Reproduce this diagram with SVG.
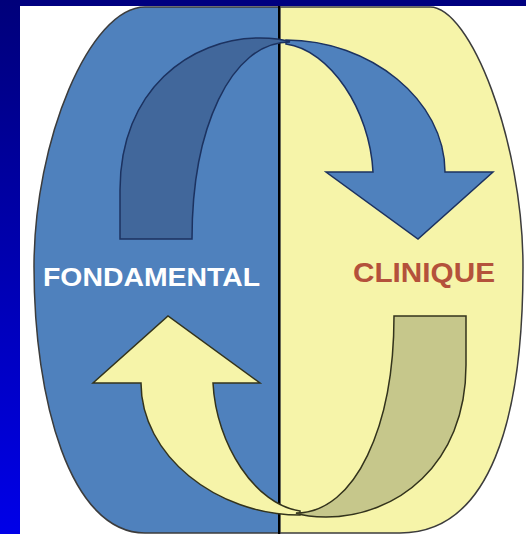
<svg xmlns="http://www.w3.org/2000/svg" width="526" height="534" viewBox="0 0 526 534">
<defs>
<linearGradient id="strip" x1="0" y1="0" x2="0" y2="1">
<stop offset="0" stop-color="#00007a"/>
<stop offset="1" stop-color="#0000e8"/>
</linearGradient>
<path id="tail" d="M120,239 L120,190 C120,90 190,38 260,38 C272,38 282,39 290,42 C230,42 192,130 192,239 Z"/>
<path id="front" d="M286,40 C370,40 445,100 445,172 L493,172 L418,239 L326,172 L373,172 C370,110 330,50 286,44 Z"/>
</defs>
<style>
.half{stroke:#3c3c3c;stroke-width:1.5}
.lbl{font-family:"Liberation Sans",Arial,sans-serif;font-weight:bold}
.topA{stroke:#1c3260;stroke-width:1.5;stroke-linejoin:miter}
.botA{stroke:#33331c;stroke-width:1.5;stroke-linejoin:miter}
</style>
<rect x="0" y="0" width="526" height="534" fill="#ffffff"/>
<rect x="0" y="0" width="526" height="6" fill="#000080"/>
<rect x="0" y="0" width="20" height="534" fill="url(#strip)"/>
<g id="fondamental">
<path class="half" fill="#4f81bd" d="M280,7 L145,7 C90,7 34,140 34,267 C34,400 70,533 145,533 L280,533 Z"/>
<text class="lbl" x="43" y="286" font-size="25" fill="#ffffff" textLength="217" lengthAdjust="spacingAndGlyphs">FONDAMENTAL</text>
</g>
<g id="clinique">
<path class="half" fill="#f6f4a9" d="M280,7 L430,7 C470,7 523,140 523,267 C523,420 490,533 400,533 L280,533 Z"/>
<text class="lbl" x="353" y="282" font-size="28" fill="#b4513b" textLength="142" lengthAdjust="spacingAndGlyphs">CLINIQUE</text>
</g>
<line id="divider" x1="279" y1="6" x2="279" y2="534" stroke="#000000" stroke-width="2"/>
<g id="connectors">
<g id="arrow-top">
<use href="#front" class="topA" fill="#4f81bd"/>
<use href="#tail" class="topA" fill="#41679b"/>
</g>
<g id="arrow-bottom" transform="rotate(180 293 277.5)">
<use href="#front" class="botA" fill="#f6f4a9"/>
<use href="#tail" class="botA" fill="#c6c78b"/>
</g>
</g>
</svg>
